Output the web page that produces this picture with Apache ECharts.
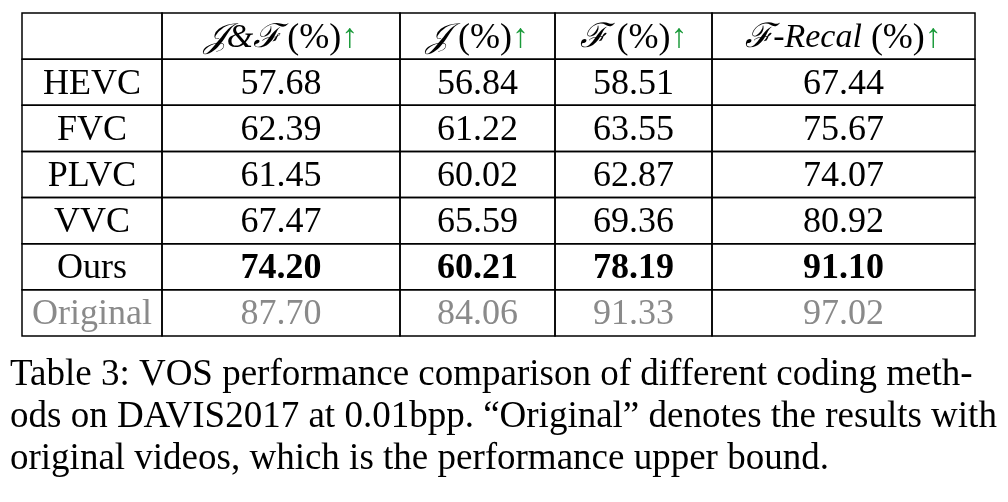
<!DOCTYPE html>
<html><head><meta charset="utf-8">
<script src="https://cdn.jsdelivr.net/npm/echarts@6/dist/echarts.min.js"></script>
<style>html,body{margin:0;background:#fff}#c{width:1008px;height:502px}</style>
</head><body><div id="c"></div>
<script>
// data
const methods = ['HEVC', 'FVC', 'PLVC', 'VVC', 'Ours', 'Original'];
const metrics = ['{s|𝒥&ℱ} (%){g|↑}', '{s|𝒥} (%){g|↑}', '{s|ℱ} (%){g|↑}', '{s|ℱ-Recal} (%){g|↑}'];
const jf = [57.68, 62.39, 61.45, 67.47, 74.20, 87.70];
const jj = [56.84, 61.22, 60.02, 65.59, 60.21, 84.06];
const ff = [58.51, 63.55, 62.87, 69.36, 78.19, 91.33];
const fr = [67.44, 75.67, 74.07, 80.92, 91.10, 97.02];
const caption = [
  'Table 3: VOS performance comparison of different coding meth-',
  'ods on DAVIS2017 at 0.01bpp. “Original” denotes the results with',
  'original videos, which is the performance upper bound.'
];

// layout
const colW = [140, 238, 155, 157, 263];
const edges = [0];
colW.forEach(w => edges.push(edges[edges.length - 1] + w));
const FONT = '"Liberation Serif", "DejaVu Serif", serif';

const cols = [jf, jj, ff, fr];
const cells = [];
cells.push([0, 0, '']);
metrics.forEach((m, i) => cells.push([i + 1, 0, m]));
methods.forEach((name, r) => {
  cells.push([0, r + 1, name]);
  cols.forEach((arr, c) => cells.push([c + 1, r + 1, arr[r].toFixed(2)]));
});

function renderItem(params, api) {
  const c = api.value(0), r = api.value(1), txt = cells[params.dataIndex][2];
  const p0 = api.coord([edges[c], r]);
  const p1 = api.coord([edges[c + 1], r + 1]);
  const name = methods[r - 1];
  const color = name === 'Original' ? '#8a8a8a' : '#000';
  const bold = name === 'Ours' && c > 0;
  return {
    type: 'group',
    children: [
      { type: 'rect', shape: { x: p0[0], y: p0[1], width: p1[0] - p0[0], height: p1[1] - p0[1] },
        style: { fill: 'none', stroke: '#000', lineWidth: 1.5 } },
      { type: 'text', x: (p0[0] + p1[0]) / 2, y: (p0[1] + p1[1]) / 2 + 2,
        style: { text: txt, align: 'center', verticalAlign: 'middle', fontFamily: FONT,
          fontSize: 36, fill: color, fontWeight: bold ? 'bold' : 'normal',
          rich: {
            s: { fontFamily: FONT, fontStyle: 'italic', fontSize: 34, fill: '#000' },
            g: { fontFamily: FONT, fontSize: 34, fill: '#1a9a3a' }
          } } }
    ]
  };
}

const chart = echarts.init(document.getElementById('c'));
chart.setOption({
  animation: false,
  grid: { left: 22, right: 33, top: 13, bottom: 166 },
  xAxis: { type: 'value', min: 0, max: edges[edges.length - 1], show: false },
  yAxis: { type: 'value', min: 0, max: methods.length + 1, inverse: true, show: false },
  series: [{ type: 'custom', renderItem, data: cells.map(d => [d[0], d[1]]) }],
  graphic: caption.map((line, i) => ({
    type: 'text', left: 10, top: 357 + i * 42,
    style: { text: line, fontFamily: FONT, fontSize: 37, fill: '#000' }
  }))
});
</script></body></html>
